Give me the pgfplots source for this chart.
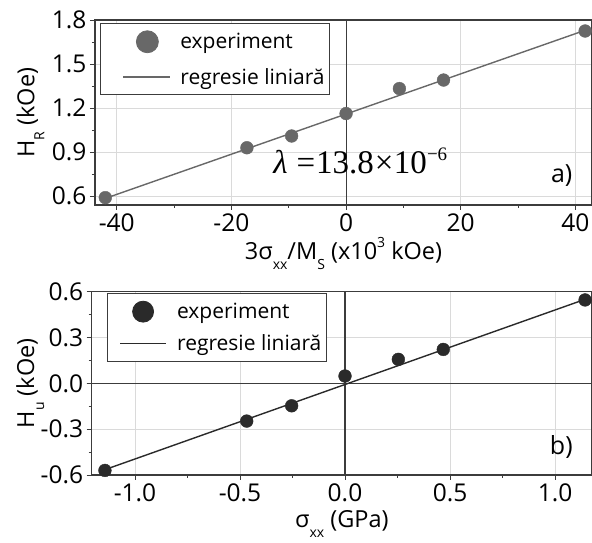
\documentclass[border=0pt]{standalone}
\usepackage{pgfplots}
\pgfplotsset{compat=1.18}
\usepackage{fontspec}
\setmainfont{Open Sans}
\newfontfamily\serif{Liberation Serif}
\definecolor{topgray}{HTML}{686868}
\definecolor{botgray}{HTML}{2A2A2A}
\definecolor{framec}{HTML}{3C3C3C}
\definecolor{gridc}{HTML}{DADADA}

\newcommand{\sub}[1]{\raisebox{-10pt}{\fontsize{14}{14}\selectfont #1}}
\newcommand{\sups}[1]{\raisebox{12pt}{\fontsize{14}{14}\selectfont #1}}

\pgfplotsset{
  panel/.style={
    scale only axis,
    axis line style={framec, line width=1.2pt},
    tick style={framec, line width=0.9pt},
    major tick length=5pt, minor tick length=3pt,
    tick align=outside,
    xtick pos=bottom, ytick pos=left,
    xmajorgrids, ymajorgrids,
    major grid style={gridc, line width=0.7pt},
    tick label style={font=\fontsize{24.5}{27}\selectfont},
    label style={font=\fontsize{23.5}{26}\selectfont},
    /pgf/number format/assume math mode=true,
    legend cell align=left,
    legend style={font=\fontsize{21}{23}\selectfont, draw=framec,
      line width=0.8pt, anchor=north west,
      inner xsep=3pt, inner ysep=7pt},
  },
}

\begin{document}
\begin{tikzpicture}
% a) top panel
\begin{axis}[panel,
  at={(95pt,338pt)}, anchor=south west,
  width=497pt, height=185pt,
  xmin=-43.8, xmax=42.9, ymin=0.54, ymax=1.8,
  xtick={-40,-20,0,20,40}, minor x tick num=1,
  ytick={0.6,0.9,1.2,1.5,1.8}, minor y tick num=1,
  yticklabel style={/pgf/number format/.cd, fixed, fixed zerofill, precision=1},
  extra x ticks={0}, extra x tick labels={},
  extra x tick style={major grid style={framec, line width=1.1pt}},
  xlabel={3σ\sub{xx}/M\sub{S} (x10\sups{3} kOe)},
  ylabel={H\sub{R} (kOe)},
  xlabel style={at={(axis description cs:0.5,-0.297)}, anchor=base},
  ylabel style={at={(axis description cs:-0.122,0.5)}, anchor=base},
  legend style={at={(0.01,0.984)}, row sep=13pt},
]
\addplot[only marks, mark=*, mark size=6.4pt, color=topgray,
  legend image code/.code={\path[draw=none] (0pt,0pt) -- (75pt,0pt);
    \fill[topgray] (44pt,0pt) circle (11pt);}]
  coordinates {(-42,0.59) (-17.3,0.93) (-9.5,1.01) (0,1.163) (9.3,1.333) (17.0,1.391) (41.7,1.725)};
\addlegendentry{experiment}
\addplot[topgray, line width=1.4pt,
  legend image code/.code={\path[draw=none] (0pt,0pt) -- (75pt,0pt);
    \draw[topgray, line width=1.4pt] (20pt,0pt) -- (67pt,0pt);}]
  coordinates {(-42,0.585) (41.7,1.73)};
\addlegendentry{regresie liniară}
\node[anchor=base west, inner sep=0pt] at (axis cs:-12.74,0.756)
  {\fontsize{33}{33}\selectfont\serif\itshape λ\upshape\hspace{9pt}=\hspace{1pt}13.8\hspace{1pt}×\hspace{0.5pt}10\raisebox{13pt}{\fontsize{19}{19}\selectfont −6}};
\node[anchor=base east, inner sep=0pt] at (axis cs:39.5,0.695) {\fontsize{25}{27}\selectfont a)};
\end{axis}

% b) bottom panel
\begin{axis}[panel,
  at={(91.7pt,68pt)}, anchor=south west,
  width=500.3pt, height=183.3pt,
  xmin=-1.206, xmax=1.176, ymin=-0.6, ymax=0.6,
  xtick={-1,-0.5,0,0.5,1}, minor x tick num=1,
  ytick={-0.6,-0.3,0,0.3,0.6}, minor y tick num=1,
  ticklabel style={/pgf/number format/.cd, fixed, fixed zerofill, precision=1},
  extra x ticks={0}, extra x tick labels={},
  extra x tick style={major grid style={framec, line width=1.1pt}},
  extra y ticks={0}, extra y tick labels={},
  extra y tick style={major grid style={framec, line width=1.1pt}},
  xlabel={σ\sub{xx} (GPa)},
  ylabel={H\sub{u} (kOe)},
  xlabel style={at={(axis description cs:0.5,-0.289)}, anchor=base},
  ylabel style={at={(axis description cs:-0.115,0.5)}, anchor=base},
  legend style={at={(0.03,0.991)}, row sep=10pt},
]
\addplot[only marks, mark=*, mark size=6.4pt, color=botgray,
  legend image code/.code={\path[draw=none] (0pt,0pt) -- (65pt,0pt);
    \fill[botgray] (33pt,0pt) circle (10.5pt);}]
  coordinates {(-1.143,-0.57) (-0.468,-0.247) (-0.254,-0.147) (0,0.048) (0.254,0.157) (0.468,0.222) (1.143,0.546)};
\addlegendentry{experiment}
\addplot[botgray, line width=1.4pt,
  legend image code/.code={\path[draw=none] (0pt,0pt) -- (65pt,0pt);
    \draw[botgray, line width=1.4pt] (10pt,0pt) -- (56pt,0pt);}]
  coordinates {(-1.143,-0.565) (1.143,0.55)};
\addlegendentry{regresie liniară}
\node[anchor=base east, inner sep=0pt] at (axis cs:1.085,-0.463) {\fontsize{25}{27}\selectfont b)};
\end{axis}

\pgfresetboundingbox
\path[use as bounding box] (0pt,0pt) rectangle (592pt,543pt);
\end{tikzpicture}
\end{document}
